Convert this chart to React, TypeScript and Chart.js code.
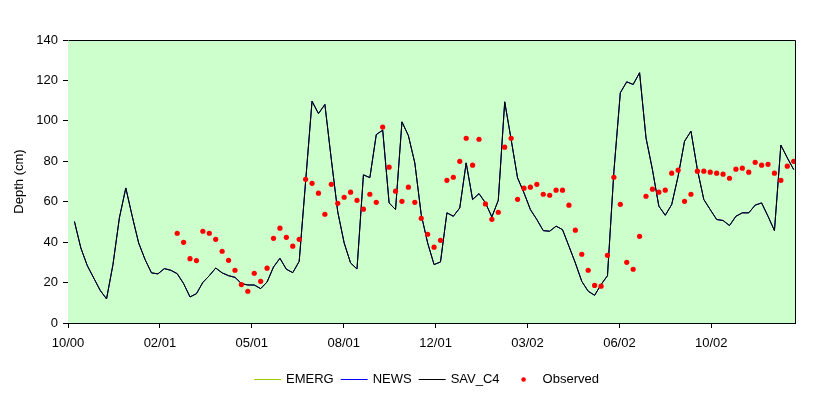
import { useEffect, useRef } from "react";
import { Chart, registerables } from "chart.js";

Chart.register(...registerables);

const FONT = '"Liberation Sans", Arial, sans-serif';

// x axis: point index units; tick labels every X_TICK_STEP points
const X_TICK_LABELS = ["10/00", "02/01", "05/01", "08/01", "12/01", "03/02", "06/02", "10/02"];
const X_TICK_STEP = 14.31;
const X_MAX = 113.2;
const Y_MIN = 0;
const Y_MAX = 140;
const Y_STEP = 20;

// Model series (SAV_C4), points 1..113
const SAV_C4 = [
  50.2, 37.1, 28.4, 22.3, 16.2, 11.9, 28.9, 52.0, 66.8, 52.8,
  39.6, 31.4, 24.8, 24.3, 26.9, 26.1, 24.4, 19.5, 12.9, 14.5,
  20.1, 23.4, 27.2, 24.8, 23.4, 22.6, 19.5, 18.8, 18.8, 17.0,
  20.3, 27.7, 32.0, 26.6, 24.9, 30.5, 70.0, 109.7, 103.6, 108.1,
  80.9, 55.0, 39.6, 29.7, 26.7, 73.3, 71.9, 93.2, 95.4, 59.4,
  56.1, 99.5, 92.7, 79.2, 53.6, 39.6, 28.9, 30.2, 54.5, 52.8,
  56.9, 79.2, 61.1, 64.0, 59.4, 52.5, 60.7, 109.4, 90.8, 71.8,
  64.4, 56.1, 51.2, 45.7, 45.4, 47.9, 46.2, 38.0, 29.7, 20.6,
  15.7, 13.7, 19.0, 23.4, 75.0, 113.9, 119.3, 118.0, 123.8, 91.6,
  75.9, 57.8, 53.3, 58.6, 72.6, 89.9, 94.9, 75.9, 61.1, 56.1,
  51.2, 50.7, 48.2, 52.8, 54.5, 54.5, 58.3, 59.4, 52.8, 45.7,
  88.0, 81.7, 75.9,
];
// EMERG and NEWS coincide with SAV_C4 (hidden underneath it)
const EMERG = SAV_C4;
const NEWS = SAV_C4;

// Observed series, starting at point 17
const OBS_START = 17;
const OBSERVED = [
  44.4, 39.9, 31.8, 30.9, 45.4, 44.4, 41.4, 35.5, 31.0, 26.1,
  19.0, 15.7, 24.6, 20.6, 27.1, 41.9, 46.9, 42.4, 38.0, 41.4,
  71.1, 69.1, 64.2, 53.8, 68.6, 59.2, 62.2, 64.7, 60.7, 56.3,
  63.7, 59.7, 96.9, 77.1, 65.2, 60.2, 67.2, 59.7, 51.8, 43.9,
  37.5, 40.9, 70.6, 72.1, 80.0, 91.4, 78.1, 90.9, 58.9, 51.3,
  54.8, 87.0, 91.4, 61.2, 66.7, 67.2, 68.6, 63.7, 63.2, 65.7,
  65.7, 58.3, 45.9, 34.0, 26.1, 18.6, 18.2, 33.5, 72.1, 58.7,
  30.0, 26.6, 42.9, 62.7, 66.2, 64.7, 65.7, 74.1, 75.6, 60.2,
  63.7, 75.1, 75.1, 74.6, 74.1, 73.6, 71.6, 76.1, 76.6, 74.6,
  79.5, 78.1, 78.5, 74.1, 70.6, 77.6, 80.0,
];

const LEGEND_ITEMS = [
  { label: "EMERG", kind: "line", color: "#99CC00" },
  { label: "NEWS", kind: "line", color: "#0000FF" },
  { label: "SAV_C4", kind: "line", color: "#000000" },
  { label: "Observed", kind: "dot", color: "#FF0000" },
];

const plotDecor = {
  id: "plotDecor",
  beforeDatasetsDraw(chart: any) {
    const { ctx, chartArea } = chart;
    ctx.save();
    ctx.fillStyle = "#CCFFCC";
    ctx.fillRect(chartArea.left, chartArea.top, chartArea.right - chartArea.left, chartArea.bottom - chartArea.top);
    ctx.restore();
  },
  afterDraw(chart: any) {
    const { ctx, chartArea } = chart;
    ctx.save();
    ctx.strokeStyle = "#000";
    ctx.lineWidth = 1;
    const l = Math.round(chartArea.left) + 0.5;
    const t = Math.round(chartArea.top) + 0.5;
    const r = Math.round(chartArea.right) + 0.5;
    const b = Math.round(chartArea.bottom) + 0.5;
    ctx.beginPath();
    ctx.moveTo(l, t);
    ctx.lineTo(r, t);
    ctx.lineTo(r, b);
    ctx.stroke();

    // legend
    ctx.font = "13px " + FONT;
    ctx.textBaseline = "middle";
    const sym = 27;
    const gapSymText = 5;
    const gapItems = 7;
    let x = 254;
    const y = 379.5;
    LEGEND_ITEMS.forEach((it) => {
      if (it.kind === "line") {
        ctx.strokeStyle = it.color;
        ctx.lineWidth = 1;
        ctx.beginPath();
        ctx.moveTo(x, y);
        ctx.lineTo(x + sym, y);
        ctx.stroke();
        x += sym + gapSymText;
      } else {
        ctx.fillStyle = it.color;
        ctx.beginPath();
        ctx.arc(x + 17, y, 2.3, 0, Math.PI * 2);
        ctx.fill();
        x += 36;
      }
      ctx.fillStyle = "#000";
      ctx.fillText(it.label, x, y);
      x += ctx.measureText(it.label).width + gapItems;
    });
    ctx.restore();
  },
};

export default function App() {
  const ref = useRef<HTMLCanvasElement | null>(null);

  useEffect(() => {
    if (!ref.current) return;
    const lineData = (arr: number[]) => arr.map((v, i) => ({ x: i + 1, y: v }));
    const obsData = OBSERVED.map((v, i) => ({ x: OBS_START + i, y: v }));
    const chart = new Chart(ref.current, {
      type: "line",
      data: {
        datasets: [
          {
            label: "Observed",
            data: obsData,
            showLine: false,
            pointRadius: 2.6,
            pointBackgroundColor: "#FF0000",
            pointBorderWidth: 0,
            pointStyle: "circle",
            order: 0,
          },
          {
            label: "SAV_C4",
            data: lineData(SAV_C4),
            borderColor: "#000000",
            borderWidth: 1,
            pointRadius: 0,
            tension: 0,
            order: 1,
          },
          {
            label: "NEWS",
            data: lineData(NEWS),
            borderColor: "#0000FF",
            borderWidth: 1,
            pointRadius: 0,
            tension: 0,
            order: 2,
          },
          {
            label: "EMERG",
            data: lineData(EMERG),
            borderColor: "#99CC00",
            borderWidth: 1,
            pointRadius: 0,
            tension: 0,
            order: 3,
          },
        ],
      },
      options: {
        responsive: false,
        animation: false,
        events: [],
        layout: { padding: { left: 0, top: 40, right: 36, bottom: 0 } },
        plugins: {
          legend: { display: false },
          tooltip: { enabled: false },
        },
        scales: {
          x: {
            type: "linear",
            min: 0,
            max: X_MAX,
            afterBuildTicks: (s: any) => {
              s.ticks = X_TICK_LABELS.map((_, i) => ({ value: i * X_TICK_STEP }));
            },
            afterFit: (s: any) => {
              s.height = 75;
            },
            ticks: {
              autoSkip: false,
              maxRotation: 0,
              minRotation: 0,
              color: "#000",
              font: { family: FONT, size: 13 },
              padding: 8,
              callback: (_v: any, i: number) => X_TICK_LABELS[i],
            },
            grid: { drawOnChartArea: false, drawTicks: true, tickLength: 5, color: "#000" },
            border: { display: true, color: "#000", width: 1 },
          },
          y: {
            min: Y_MIN,
            max: Y_MAX,
            afterFit: (s: any) => {
              s.width = 68;
            },
            ticks: {
              stepSize: Y_STEP,
              color: "#000",
              font: { family: FONT, size: 13 },
              padding: 5,
            },
            grid: { drawOnChartArea: false, drawTicks: true, tickLength: 5, color: "#000" },
            border: { display: true, color: "#000", width: 1 },
            title: {
              display: true,
              text: "Depth (cm)",
              color: "#000",
              font: { family: FONT, size: 13 },
              padding: { top: 12, bottom: 0 },
            },
          },
        },
      },
      plugins: [plotDecor],
    });
    return () => chart.destroy();
  }, []);

  return (
    <div style={{ position: "fixed", left: 0, top: 0, width: 831, height: 398, background: "#fff" }}>
      <canvas ref={ref} width={831} height={398} style={{ display: "block" }} />
    </div>
  );
}
